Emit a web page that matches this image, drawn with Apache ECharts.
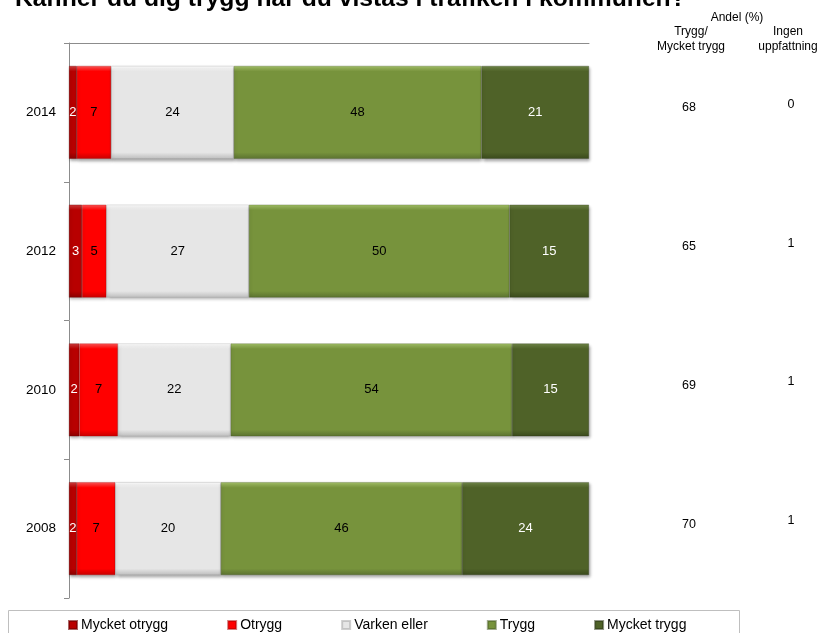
<!DOCTYPE html>
<html>
<head>
<meta charset="utf-8">
<script src="https://cdn.jsdelivr.net/npm/echarts@6/dist/echarts.min.js"></script>
<style>
html,body{margin:0;padding:0;background:#fff;}
#chart{width:822px;height:633px;}
</style>
</head>
<body>
<div id="chart"></div>
<script>
// Data
var years = ['2014', '2012', '2010', '2008'];
var seriesNames = ['Mycket otrygg', 'Otrygg', 'Varken eller', 'Trygg', 'Mycket trygg'];
var mycketOtrygg = [1.5, 2.5, 2.0, 1.5];
var otrygg = [6.6, 4.7, 7.4, 7.4];
var varkenEller = [23.6, 27.4, 21.7, 20.3];
var trygg = [47.6, 50.1, 54.1, 46.4];
var mycketTrygg = [20.7, 15.3, 14.8, 24.4];
var tryggMycketTrygg = [68, 65, 69, 70];
var ingenUppfattning = [0, 1, 1, 1];

var FONT = 'Liberation Sans, Arial, sans-serif';

function grad(top, base, bottom) {
  return new echarts.graphic.LinearGradient(0, 0, 0, 1, [
    {offset: 0, color: top},
    {offset: 0.06, color: base},
    {offset: 0.93, color: base},
    {offset: 1, color: bottom}
  ]);
}
var styles = [
  {fill: grad('#D24040', '#B80000', '#8A0000'), label: '#ffffff', border: 'rgba(110,0,0,0.6)'},
  {fill: grad('#FF5A5A', '#FF0000', '#C80000'), label: '#000000', border: 'rgba(170,0,0,0.5)'},
  {fill: grad('#FFFFFF', '#E6E6E6', '#BDBDBD'), label: '#000000', border: 'rgba(160,160,160,0.5)'},
  {fill: grad('#A6C46A', '#77933C', '#5B7230'), label: '#000000', border: 'rgba(70,90,35,0.5)'},
  {fill: grad('#718849', '#4F6228', '#3A4A1C'), label: '#ffffff', border: 'rgba(40,50,20,0.5)'}
];
var values = [mycketOtrygg, otrygg, varkenEller, trygg, mycketTrygg];

var series = values.map(function (vals, i) {
  return {
    name: seriesNames[i],
    type: 'bar',
    stack: 'total',
    barCategoryGap: '33%',
    data: vals,
    itemStyle: {
      color: styles[i].fill,
      borderColor: styles[i].border,
      borderWidth: 0.6,
      shadowColor: 'rgba(0,0,0,0.35)',
      shadowBlur: 3,
      shadowOffsetX: 1,
      shadowOffsetY: 2
    },
    label: {
      show: true,
      position: 'inside',
      color: styles[i].label,
      fontFamily: FONT,
      fontSize: 13,
      formatter: function (p) { return Math.round(p.value); }
    },
    emphasis: {disabled: true}
  };
});

var chart = echarts.init(document.getElementById('chart'), null, {renderer: 'canvas'});
chart.setOption({
  animation: false,
  backgroundColor: '#ffffff',
  title: [
    {text: 'Känner du dig trygg när du vistas i trafiken i kommunen?', left: 15, top: -13, padding: 0,
     textStyle: {fontFamily: FONT, fontWeight: 'bold', fontSize: 24.7, color: '#000', lineHeight: 25}},
    {text: 'Andel (%)', left: 737, top: 11, padding: 0, textAlign: 'center',
     textStyle: {fontFamily: FONT, fontWeight: 'normal', fontSize: 12, color: '#000', lineHeight: 14}},
    {text: 'Trygg/\nMycket trygg', left: 691, top: 24.5, padding: 0, textAlign: 'center',
     textStyle: {fontFamily: FONT, fontWeight: 'normal', fontSize: 12, color: '#000', lineHeight: 15}},
    {text: 'Ingen\nuppfattning', left: 788, top: 24.5, padding: 0, textAlign: 'center',
     textStyle: {fontFamily: FONT, fontWeight: 'normal', fontSize: 12, color: '#000', lineHeight: 15}}
  ],
  legend: {
    data: seriesNames,
    left: 68,
    top: 618,
    padding: 0,
    itemGap: 59,
    itemWidth: 8,
    itemHeight: 8,
    icon: 'rect',
    textStyle: {fontFamily: FONT, fontSize: 14, color: '#000', padding: [0, 0, 0, -1]}
  },
  graphic: [
    {type: 'rect', shape: {x: 8.5, y: 610.5, width: 731, height: 40},
     style: {fill: 'none', stroke: '#BFBFBF', lineWidth: 1}, silent: true, z: -1}
  ],
  grid: {left: 69, right: 233, top: 43, bottom: 35, containLabel: false},
  xAxis: {
    type: 'value', position: 'top', min: 0, max: 100,
    axisLine: {show: true, lineStyle: {color: '#8C8C8C', width: 1}},
    axisTick: {show: false},
    axisLabel: {show: false},
    splitLine: {show: false}
  },
  yAxis: [
    {
      type: 'category', data: years, inverse: true,
      axisLine: {show: true, lineStyle: {color: '#8C8C8C', width: 1}},
      axisTick: {show: true, length: 5, lineStyle: {color: '#8C8C8C'}},
      axisLabel: {fontFamily: FONT, fontSize: 13.5, color: '#000', margin: 13}
    },
    {
      type: 'category', data: years, inverse: true, position: 'right', offset: 0,
      axisLine: {show: false}, axisTick: {show: false}, splitLine: {show: false},
      axisLabel: {fontFamily: FONT, fontSize: 12.5, color: '#000', margin: 100, align: 'center',
        verticalAlign: 'bottom', lineHeight: 9,
        formatter: function (v, i) { return String(tryggMycketTrygg[i]); }}
    },
    {
      type: 'category', data: years, inverse: true, position: 'right', offset: 0,
      axisLine: {show: false}, axisTick: {show: false}, splitLine: {show: false},
      axisLabel: {fontFamily: FONT, fontSize: 12.5, color: '#000', margin: 202, align: 'center',
        verticalAlign: 'bottom', lineHeight: 16,
        formatter: function (v, i) { return String(ingenUppfattning[i]); }}
    }
  ],
  series: series
});
</script>
</body>
</html>
